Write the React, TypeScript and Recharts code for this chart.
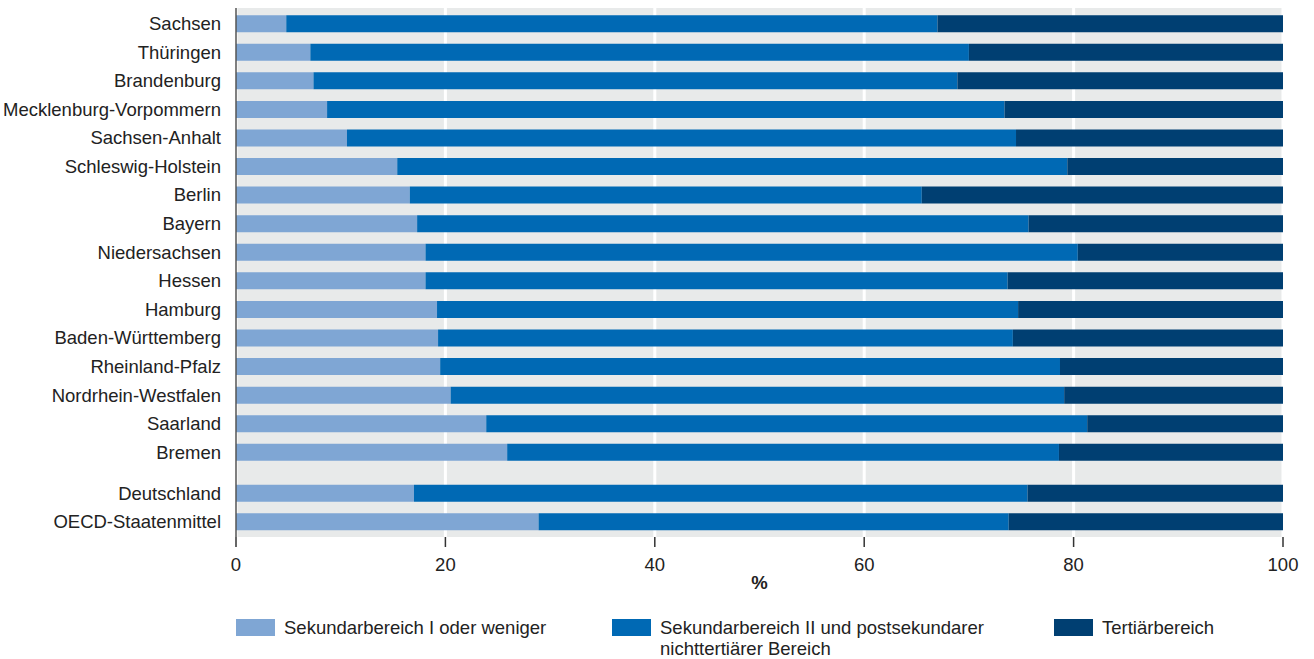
import * as React from "react"
import { Bar, BarChart, CartesianGrid, Legend, XAxis, YAxis } from "recharts"

// Bundesländer, sortiert wie in der Vorlage
const states = [
  "Sachsen",
  "Thüringen",
  "Brandenburg",
  "Mecklenburg-Vorpommern",
  "Sachsen-Anhalt",
  "Schleswig-Holstein",
  "Berlin",
  "Bayern",
  "Niedersachsen",
  "Hessen",
  "Hamburg",
  "Baden-Württemberg",
  "Rheinland-Pfalz",
  "Nordrhein-Westfalen",
  "Saarland",
  "Bremen",
]
const aggregates = ["Deutschland", "OECD-Staatenmittel"]

const sek1 = [4.8, 7.1, 7.4, 8.7, 10.6, 15.4, 16.6, 17.3, 18.1, 18.1, 19.2, 19.3, 19.5, 20.5, 23.9, 25.9, 17.0, 28.9]
const sek2 = [62.2, 62.9, 61.5, 64.7, 63.9, 64.0, 48.9, 58.4, 62.3, 55.6, 55.5, 54.9, 59.2, 58.6, 57.4, 52.7, 58.6, 44.9]
const tert = [33.0, 30.0, 31.1, 26.6, 25.5, 20.6, 34.5, 24.3, 19.6, 26.3, 25.3, 25.8, 21.3, 20.9, 18.7, 21.4, 24.4, 26.2]

const seriesNames = [
  "Sekundarbereich I oder weniger",
  "Sekundarbereich II und postsekundarer nichttertiärer Bereich",
  "Tertiärbereich",
]
const xTicks = [0, 20, 40, 60, 80, 100]

const COLORS = ["#7fa6d4", "#0069b4", "#003f72"]
const GAP = 0.43 // extra Abstand vor Deutschland/OECD

const names = [...states, ...aggregates]
const rows = names.map((name, i) => ({
  name,
  pos: i < states.length ? i : i + GAP,
  sek1: sek1[i],
  sek2: sek2[i],
  tert: tert[i],
}))
const yTicks = rows.map((r) => r.pos)
const nameAt = (v: number) => rows.find((r) => Math.abs(r.pos - v) < 1e-6)?.name ?? ""

const font = "'Liberation Sans', Arial, Helvetica, sans-serif"
const FS = 18.5

const LegendContent = () => {
  const lefts = [236, 612, 1054]
  return (
    <div style={{ position: "relative", height: 62, fontFamily: font, fontSize: FS, color: "#222" }}>
      {seriesNames.map((n, i) => (
        <div key={n} style={{ position: "absolute", left: lefts[i], top: 20, display: "flex", alignItems: "flex-start" }}>
          <span style={{ width: 39, height: 17, background: COLORS[i], marginTop: 2, marginRight: 9, flex: "none" }} />
          <span style={{ lineHeight: "21px", width: i === 1 ? 345 : undefined }}>{n}</span>
        </div>
      ))}
    </div>
  )
}

export default function App() {
  return (
    <div style={{ position: "absolute", left: 0, top: 0, background: "#fff" }}>
      <BarChart
        width={1314}
        height={659}
        data={rows}
        layout="vertical"
        margin={{ top: 8, right: 31, left: 0, bottom: 0 }}
        style={{ fontFamily: font }}
      >
        <CartesianGrid horizontal={false} stroke="#ffffff" strokeWidth={3} fill="#e8eaea" />
        <XAxis
          type="number"
          domain={[0, 100]}
          ticks={xTicks}
          height={60}
          axisLine={false}
          tickSize={10}
          tickMargin={11}
          tickLine={{ stroke: "#333", strokeWidth: 1.5 }}
          tick={{ fill: "#222", fontSize: FS }}
          label={{ value: "%", position: "insideBottom", offset: 8, fill: "#222", fontSize: FS, fontWeight: "bold" }}
        />
        <YAxis
          type="number"
          dataKey="pos"
          domain={[-0.54, 17.97]}
          ticks={yTicks}
          interval={0}
          width={236}
          tickFormatter={nameAt}
          tickLine={false}
          tickSize={0}
          tickMargin={15}
          axisLine={{ stroke: "#555", strokeWidth: 1.5 }}
          tick={{ fill: "#222", fontSize: FS }}
        />
        <Legend verticalAlign="bottom" height={62} content={<LegendContent />} wrapperStyle={{ left: 0, width: 1314 }} />
        <Bar dataKey="sek1" name={seriesNames[0]} stackId="a" fill={COLORS[0]} barSize={17} isAnimationActive={false} />
        <Bar dataKey="sek2" name={seriesNames[1]} stackId="a" fill={COLORS[1]} barSize={17} isAnimationActive={false} />
        <Bar dataKey="tert" name={seriesNames[2]} stackId="a" fill={COLORS[2]} barSize={17} isAnimationActive={false} />
      </BarChart>
    </div>
  )
}
